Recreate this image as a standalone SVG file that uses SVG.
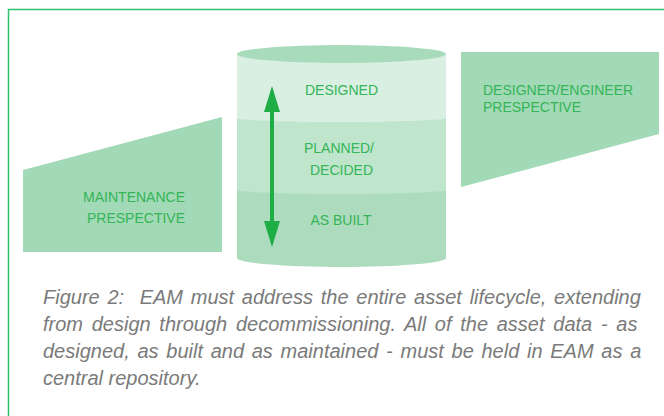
<svg xmlns="http://www.w3.org/2000/svg" width="664" height="416" viewBox="0 0 664 416">
  <style>
    .lbl { font-family: "Liberation Sans", Arial, sans-serif; font-size: 14px; fill: #35b557; }
    .cap { font-family: "Liberation Sans", Arial, sans-serif; font-size: 20px; font-style: italic; fill: #7a7a7a; }
    .trap { fill: #a2d9b6; }
  </style>
  <defs>
    <marker id="ah" markerUnits="userSpaceOnUse" markerWidth="26" markerHeight="16" refX="0" refY="8" orient="auto-start-reverse">
      <path d="M0,0 L26,8 L0,16 Z" fill="#1fae45"/>
    </marker>
  </defs>
  <rect width="664" height="416" fill="#ffffff"/>
  <path d="M8.5,416 V9.5 H664" fill="none" stroke="#2dc26b" stroke-width="1.5"/>

  <g id="maintenance">
    <polygon class="trap" points="23,170 222,117 222,252 23,252"/>
    <text class="lbl" text-anchor="end" x="185" y="202">MAINTENANCE</text>
    <text class="lbl" text-anchor="end" x="185" y="223">PRESPECTIVE</text>
  </g>

  <g id="designer">
    <polygon class="trap" points="461,52 659,52 659,134 461,187"/>
    <text class="lbl" x="483" y="95">DESIGNER/ENGINEER</text>
    <text class="lbl" x="483" y="112">PRESPECTIVE</text>
  </g>

  <g id="repository">
    <path d="M237,54 V258 A104.5,9 0 0 0 446,258 V54 Z" fill="#acdcbd"/>
    <path d="M237,54 V190 A104.5,4 0 0 0 446,190 V54 Z" fill="#bfe5cd"/>
    <path d="M237,54 V118 A104.5,4 0 0 0 446,118 V54 Z" fill="#d8efe2"/>
    <ellipse cx="341.5" cy="54" rx="104.5" ry="9" fill="#a8dbbb"/>
    <text class="lbl" text-anchor="middle" x="341.5" y="95">DESIGNED</text>
    <text class="lbl" text-anchor="middle" x="339" y="153">PLANNED/</text>
    <text class="lbl" text-anchor="middle" x="341.5" y="175">DECIDED</text>
    <text class="lbl" text-anchor="middle" x="341" y="225">AS BUILT</text>
  </g>

  <g id="connectors">
    <line x1="272" y1="112" x2="272" y2="221" stroke="#1fae45" stroke-width="4" marker-start="url(#ah)" marker-end="url(#ah)"/>
  </g>

  <g id="caption">
    <text class="cap" x="43" y="304" xml:space="preserve" word-spacing="2.2">Figure 2:  EAM must address the entire asset lifecycle, extending</text>
    <text class="cap" x="43" y="331" word-spacing="3.15">from design through decommissioning. All of the asset data - as</text>
    <text class="cap" x="43" y="358" word-spacing="2.15">designed, as built and as maintained - must be held in EAM as a</text>
    <text class="cap" x="43" y="385">central repository.</text>
  </g>
</svg>
